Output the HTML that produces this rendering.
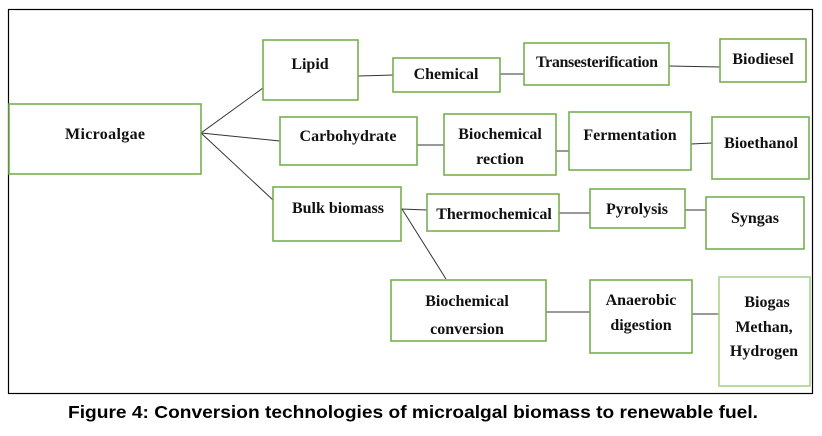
<!DOCTYPE html>
<html><head><meta charset="utf-8"><style>
html,body{margin:0;padding:0;background:#fff;width:822px;height:436px;overflow:hidden}
svg text{font-family:"Liberation Serif",serif;font-weight:bold;font-size:16px;fill:#111;text-anchor:middle}
.c{font-family:"Liberation Sans",sans-serif;font-size:17.5px;fill:#000}
</style></head><body>
<svg width="822" height="436" xmlns="http://www.w3.org/2000/svg">
<rect x="8.5" y="9.5" width="804" height="384" fill="none" stroke="#000" stroke-width="1.2"/>
<g stroke="#333" stroke-width="1" fill="none">
<line x1="201" y1="133" x2="263" y2="88"/>
<line x1="201" y1="133" x2="280" y2="141"/>
<line x1="201" y1="133" x2="273" y2="200"/>
<line x1="401" y1="209" x2="427" y2="210"/>
<line x1="402" y1="209" x2="446" y2="279"/>
<line x1="358" y1="76" x2="393" y2="75"/>
<line x1="500" y1="74" x2="524" y2="74"/>
<line x1="669" y1="66" x2="720" y2="67"/>
<line x1="417" y1="145" x2="444" y2="145"/>
<line x1="556" y1="151" x2="569" y2="151"/>
<line x1="691" y1="144" x2="712" y2="143"/>
<line x1="559" y1="213" x2="590" y2="213"/>
<line x1="685" y1="210" x2="706" y2="210"/>
<line x1="546" y1="312" x2="590" y2="312"/>
<line x1="692" y1="314" x2="719" y2="314"/>
</g>
<g fill="#fff" stroke="#77b050" stroke-width="1.6">
<rect x="9" y="104" width="192" height="70"/>
<rect x="263" y="40" width="95" height="60"/>
<rect x="393" y="58" width="107" height="34"/>
<rect x="524" y="43" width="145" height="42"/>
<rect x="720" y="39" width="86" height="43"/>
<rect x="280" y="117" width="137" height="48"/>
<rect x="444" y="114" width="112" height="61"/>
<rect x="569" y="112" width="122" height="58"/>
<rect x="712" y="117" width="97" height="62"/>
<rect x="273" y="187" width="128" height="54"/>
<rect x="427" y="194" width="132" height="37"/>
<rect x="590" y="189" width="95" height="39"/>
<rect x="706" y="197" width="98" height="52"/>
<rect x="391" y="280" width="155" height="61"/>
<rect x="590" y="280" width="102" height="73"/>
<rect x="719" y="277" width="91" height="109" stroke="#a8d48c"/>
</g>
<text x="105" y="139" textLength="80">Microalgae</text>
<text x="310" y="69">Lipid</text>
<text x="446" y="79">Chemical</text>
<text x="597" y="67" textLength="122">Transesterification</text>
<text x="763" y="64">Biodiesel</text>
<text x="348" y="141">Carbohydrate</text>
<text x="500" y="139">Biochemical</text>
<text x="500" y="164">rection</text>
<text x="630" y="140">Fermentation</text>
<text x="761" y="148">Bioethanol</text>
<text x="338" y="213">Bulk biomass</text>
<text x="494" y="219">Thermochemical</text>
<text x="637" y="214">Pyrolysis</text>
<text x="755" y="223">Syngas</text>
<text x="467" y="306">Biochemical</text>
<text x="467" y="334">conversion</text>
<text x="641" y="305">Anaerobic</text>
<text x="641" y="330">digestion</text>
<text x="767" y="307">Biogas</text>
<text x="764" y="332">Methan,</text>
<text x="764" y="356">Hydrogen</text>
<text class="c" x="413" y="418" textLength="690" lengthAdjust="spacingAndGlyphs">Figure 4: Conversion technologies of microalgal biomass to renewable fuel.</text>
</svg>
</body></html>
